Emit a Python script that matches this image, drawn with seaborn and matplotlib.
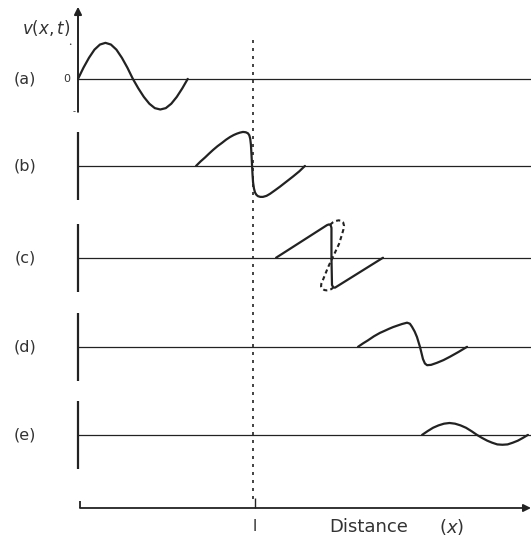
import matplotlib
matplotlib.use("Agg")
import matplotlib.pyplot as plt
import pandas as pd
import seaborn as sns

# Distance measured in units of l, displacement in units of the initial amplitude
panel_labels = ["(a)", "(b)", "(c)", "(d)", "(e)"]
baselines = [0.0, -2.56, -5.26, -7.88, -10.47]

# (a) initial sinusoidal pulse
xa = [0.0, 0.031, 0.062, 0.093, 0.124, 0.155, 0.186, 0.217, 0.248, 0.279, 0.31,
      0.341, 0.372, 0.403, 0.434, 0.465, 0.496, 0.527, 0.558, 0.589, 0.62]
va = [0.0, 0.33, 0.62, 0.86, 1.01, 1.06, 1.01, 0.86, 0.62, 0.33, 0.0,
      -0.28, -0.53, -0.73, -0.86, -0.90, -0.86, -0.73, -0.53, -0.28, 0.0]

# (b) steepened pulse reaching x = l
xb = [0.667, 0.692, 0.718, 0.740, 0.763, 0.788, 0.814, 0.836, 0.859, 0.880,
      0.898, 0.915, 0.932, 0.948, 0.960, 0.968, 0.973, 0.977, 0.980, 0.983,
      0.986, 0.989, 0.994, 1.0, 1.008, 1.017, 1.030, 1.045, 1.065, 1.085,
      1.112, 1.141, 1.178, 1.215, 1.250, 1.282]
vb = [0.0, 0.13, 0.25, 0.36, 0.47, 0.58, 0.68, 0.77, 0.85, 0.91,
      0.95, 0.98, 1.0, 0.99, 0.96, 0.90, 0.80, 0.62, 0.35, 0.05,
      -0.25, -0.48, -0.66, -0.78, -0.85, -0.89, -0.91, -0.91, -0.88, -0.82,
      -0.72, -0.61, -0.46, -0.31, -0.16, 0.0]

# (c) shock front, with the multivalued profile dotted
xc = [1.119, 1.407, 1.418, 1.427, 1.432, 1.432, 1.435, 1.442, 1.452, 1.723]
vc = [0.0, 0.96, 0.98, 0.96, 0.88, 0.0, -0.80, -0.87, -0.88, 0.0]
xc_mv = [1.424, 1.440, 1.455, 1.472, 1.486, 1.498, 1.503, 1.500, 1.490,
         1.475, 1.458, 1.441, 1.426, 1.412, 1.398, 1.384, 1.375, 1.373,
         1.380, 1.392, 1.405, 1.418, 1.432, 1.441]
vc_mv = [0.97, 1.04, 1.08, 1.10, 1.09, 1.04, 0.94, 0.84, 0.66,
         0.41, 0.22, 0.03, -0.13, -0.29, -0.47, -0.65, -0.76, -0.84,
         -0.91, -0.95, -0.96, -0.95, -0.92, -0.88]

# (d) decaying N-wave
xd = [1.582, 1.610, 1.638, 1.672, 1.706, 1.732, 1.757, 1.780, 1.802, 1.830,
      1.859, 1.875, 1.887, 1.902, 1.915, 1.932, 1.949, 1.960, 1.972, 1.995,
      2.028, 2.065, 2.102, 2.150, 2.198]
vd = [0.0, 0.10, 0.19, 0.31, 0.41, 0.47, 0.53, 0.58, 0.62, 0.67,
      0.71, 0.68, 0.59, 0.45, 0.29, 0.0, -0.36, -0.49, -0.54, -0.53,
      -0.47, -0.39, -0.29, -0.15, 0.0]

# (e) small residual wave
xe = [1.944, 1.975, 2.006, 2.037, 2.068, 2.099, 2.130, 2.161, 2.192, 2.223,
      2.254, 2.283, 2.312, 2.340, 2.369, 2.398, 2.427, 2.456, 2.485, 2.513, 2.542]
ve = [0.0, 0.11, 0.21, 0.28, 0.33, 0.35, 0.33, 0.28, 0.21, 0.11,
      0.0, -0.09, -0.17, -0.23, -0.28, -0.29, -0.28, -0.23, -0.17, -0.09, 0.0]

curves_x = [xa, xb, xc, xd, xe]
curves_v = [va, vb, vc, vd, ve]

l_position = 1.0
x_label = "Distance"
x_symbol = "($x$)"
y_label = "$v(x,t)$"

sns.set_style("white")
plt.rcParams["font.family"] = ["DejaVu Sans"]
plt.rcParams["mathtext.fontset"] = "dejavusans"

ink = "#222222"
text_ink = "#333333"

fig = plt.figure(figsize=(5.31, 5.42), dpi=100)
ax = fig.add_axes([0, 0, 1, 1])
ax.set_xlim(-78 / 177, 453 / 177)
ax.set_ylim(-13.62, 2.32)
ax.axis("off")

x_right = 453 / 177

for i, (label, base) in enumerate(zip(panel_labels, baselines)):
    # baseline and short vertical axis for each panel
    ax.hlines(base, 0, x_right, color=ink, lw=0.9)
    if i == 0:
        ax.annotate("", xy=(0, base + 2.12), xytext=(0, base - 0.97),
                    arrowprops=dict(arrowstyle="-|>", lw=1.4, color=ink,
                                    mutation_scale=11, shrinkA=0, shrinkB=0))
    else:
        ax.vlines(0, base - 1.0, base + 1.0, color=ink, lw=1.6)
    ax.text(-0.30, base, label, ha="center", va="center", fontsize=11.5,
            color=text_ink)

    df = pd.DataFrame({"x": curves_x[i], "v": [base + v for v in curves_v[i]]})
    sns.lineplot(data=df, x="x", y="v", sort=False, estimator=None,
                 color=ink, lw=1.6, ax=ax, solid_joinstyle="round",
                 solid_capstyle="round")

# multivalued profile in (c)
df_mv = pd.DataFrame({"x": xc_mv, "v": [baselines[2] + v for v in vc_mv]})
sns.lineplot(data=df_mv, x="x", y="v", sort=False, estimator=None,
             color=ink, lw=1.5, linestyle=(0, (2.0, 1.5)), ax=ax)

# marks on the first panel's axis
ax.text(-0.062, 0.0, "0", ha="center", va="center", fontsize=8, color=text_ink)
ax.text(-0.045, 1.0, "•", ha="center", va="center", fontsize=4, color=text_ink)
ax.text(-0.02, -0.97, "-", ha="center", va="center", fontsize=6, color=text_ink)
ax.text(-0.18, 1.5, y_label, ha="center", va="center", fontsize=12,
        color=text_ink)

# dashed line at x = l
axis_y = -12.62
ax.vlines(l_position - 0.01, -12.35, 1.15, color=ink, lw=1.2,
          linestyles=[(0, (1.8, 3.0))])

# distance axis
ax.annotate("", xy=(x_right, axis_y), xytext=(0.011, axis_y),
            arrowprops=dict(arrowstyle="-|>", lw=1.3, color=ink,
                            mutation_scale=11, shrinkA=0, shrinkB=0))
ax.vlines(0.011, axis_y, axis_y + 0.21, color=ink, lw=1.3)
ax.vlines(l_position, axis_y, axis_y + 0.3, color=ink, lw=1.0)
ax.text(l_position, axis_y - 0.55, "l", ha="center", va="center",
        fontsize=11, color=text_ink)
ax.text(1.645, axis_y - 0.55, x_label, ha="center", va="center",
        fontsize=13, color=text_ink)
ax.text(2.11, axis_y - 0.55, x_symbol, ha="center", va="center",
        fontsize=13, color=text_ink)

fig.savefig("out.png", dpi=100)
